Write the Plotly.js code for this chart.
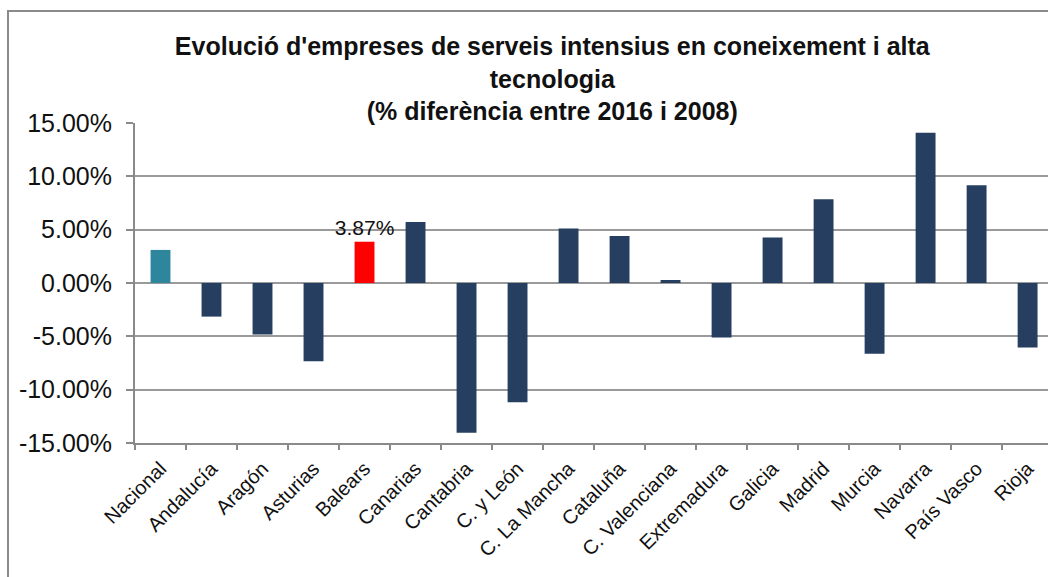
<!DOCTYPE html>
<html>
<head>
<meta charset="utf-8">
<script src="https://cdn.plot.ly/plotly-3.0.1.min.js"></script>
<style>
  html, body { margin: 0; padding: 0; background: #fff; overflow: hidden; }
  #chart { width: 1048px; height: 577px; position: relative; }
  #frame { position: absolute; left: 7px; top: 10px; width: 1100px; height: 700px;
           border-left: 2px solid #8a8a8a; border-top: 2px solid #8a8a8a; pointer-events: none; z-index: 5; }
</style>
</head>
<body>
<div id="chart"></div>
<div id="frame"></div>
<script>
const categories = ["Nacional", "Andalucía", "Aragón", "Asturias", "Balears", "Canarias", "Cantabria",
  "C. y León", "C. La Mancha", "Cataluña", "C. Valenciana", "Extremadura", "Galicia", "Madrid",
  "Murcia", "Navarra", "País Vasco", "Rioja"];
const values = [3.10, -3.15, -4.83, -7.33, 3.87, 5.71, -14.03, -11.19, 5.11, 4.40, 0.28, -5.11,
  4.27, 7.86, -6.64, 14.09, 9.17, -6.05];
const barColors = ["#2E869D", "#263F61", "#263F61", "#263F61", "#FF0000", "#263F61", "#263F61",
  "#263F61", "#263F61", "#263F61", "#263F61", "#263F61", "#263F61", "#263F61", "#263F61",
  "#263F61", "#263F61", "#263F61"];
const barLabels = ["", "", "", "", "3.87%", "", "", "", "", "", "", "", "", "", "", "", "", ""];
const yTickVals = [-15, -10, -5, 0, 5, 10, 15];
const yTickText = ["-15.00%", "-10.00%", "-5.00%", "0.00%", "5.00%", "10.00%", "15.00%"];

const trace = {
  type: "bar",
  x: categories,
  y: values,
  marker: { color: barColors },
  text: barLabels,
  textposition: "outside",
  constraintext: "none",
  cliponaxis: false,
  textfont: { family: "Liberation Sans, Arial, sans-serif", size: 21, color: "#111" },
  hoverinfo: "x+y"
};

const layout = {
  width: 1048,
  height: 577,
  margin: { l: 135, r: 0, t: 123, b: 134 },
  paper_bgcolor: "#fff",
  plot_bgcolor: "#fff",
  showlegend: false,
  bargap: 0.61,
  font: { family: "Liberation Sans, Arial, sans-serif", color: "#111" },
  title: {
    text: "<b>Evolució d'empreses de serveis intensius en coneixement i alta<br>tecnologia<br>(% diferència entre 2016 i 2008)</b>",
    font: { family: "Liberation Sans, Arial, sans-serif", size: 25, color: "#111" },
    xref: "container", yref: "container",
    x: 0.527, xanchor: "center",
    y: 1 - 55 / 577, yanchor: "top"
  },
  xaxis: {
    type: "category",
    range: [-0.5, 17.4],
    showline: true, linecolor: "#8a8a8a", linewidth: 2,
    ticks: "outside", tickson: "boundaries", ticklen: 5, tickcolor: "#8a8a8a", tickwidth: 1.5,
    tickangle: -45,
    tickfont: { family: "Liberation Sans, Arial, sans-serif", size: 20, color: "#111" },
    ticklabelstandoff: 4,
    showgrid: false, zeroline: false
  },
  yaxis: {
    range: [-15, 15],
    tickvals: yTickVals, ticktext: yTickText,
    showline: true, linecolor: "#8a8a8a", linewidth: 2,
    ticks: "outside", ticklen: 7, tickcolor: "#8a8a8a", tickwidth: 1.5,
    showgrid: true, gridcolor: "#9a9a9a", gridwidth: 2,
    zeroline: true, zerolinecolor: "#9a9a9a", zerolinewidth: 2,
    tickfont: { family: "Liberation Sans, Arial, sans-serif", size: 25, color: "#111" },
    ticklabelstandoff: 9
  }
};

Plotly.newPlot("chart", [trace], layout, { displayModeBar: false, responsive: false });
</script>
</body>
</html>
